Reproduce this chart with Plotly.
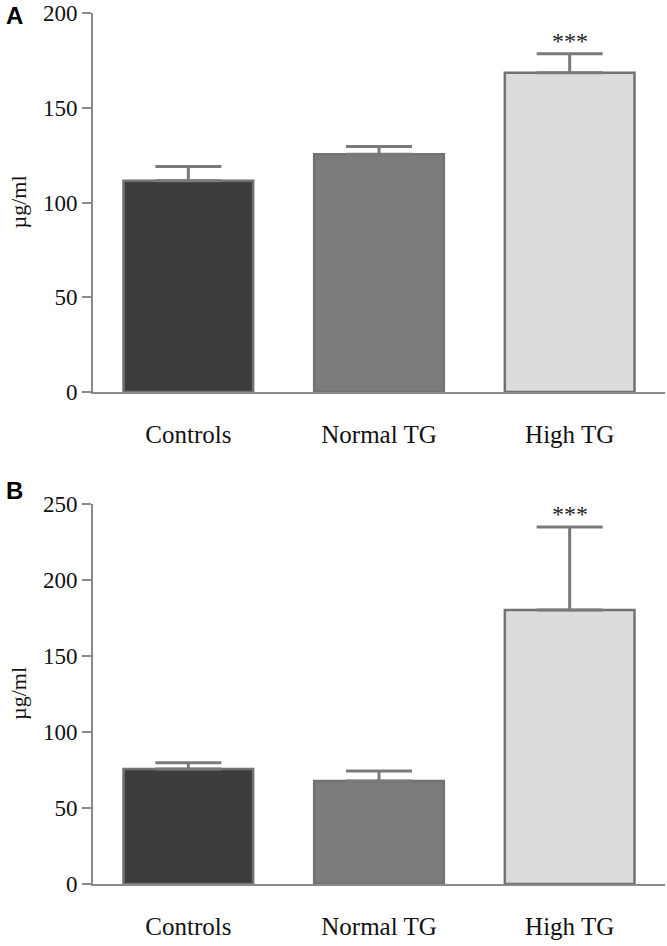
import plotly.graph_objects as go

categories = ["Controls", "Normal TG", "High TG"]
values_a = [111.5, 125.5, 168.5]
errors_a = [7.5, 4.0, 10.0]
values_b = [75.7, 67.8, 180.3]
errors_b = [4.0, 6.5, 54.6]
yticks_a = [0, 50, 100, 150, 200]
yticks_b = [0, 50, 100, 150, 200, 250]
bar_colors = ["#3d3d3d", "#7b7b7b", "#dcdcdc"]
signif = ["", "", "***"]

W, H = 667, 946
L, R = 93, 2
PW = W - L - R

def ydom(top_px, bottom_px):
    return [1 - bottom_px / H, 1 - top_px / H]

dom_a = ydom(13, 392)
dom_b = ydom(504, 884)
xrange_ = [-0.5, 2.5]

fig = go.Figure()

for vals, errs, xa, ya in [(values_a, errors_a, "x", "y"), (values_b, errors_b, "x2", "y2")]:
    fig.add_trace(go.Bar(
        x=categories, y=vals, xaxis=xa, yaxis=ya,
        marker=dict(color=bar_colors, line=dict(color="#727272", width=2.5)),
        width=0.68,
        error_y=dict(type="data", array=errs, arrayminus=[0] * len(errs),
                     symmetric=False, color="#7a7a7a", thickness=3, width=33),
        showlegend=False,
        cliponaxis=False,
    ))

axis_common = dict(showline=True, linecolor="#8a8a8a", linewidth=2,
                   showgrid=False, zeroline=False, automargin=False,
                   ticklabeloverflow="allow")
tickfont = dict(family="Liberation Serif", size=23, color="#111111")
catfont = dict(family="Liberation Serif", size=25, color="#111111")

fig.update_layout(
    width=W, height=H,
    margin=dict(l=L, r=R, t=0, b=0),
    plot_bgcolor="white", paper_bgcolor="white",
    xaxis=dict(domain=[0, 1], anchor="y", range=xrange_, ticks="",
               tickfont=catfont, ticklabelstandoff=19, **axis_common),
    yaxis=dict(domain=dom_a, anchor="x", range=[0, 200],
               tickvals=yticks_a, ticks="outside", ticklen=9, tickwidth=2,
               tickcolor="#8a8a8a", tickfont=tickfont, **axis_common),
    xaxis2=dict(domain=[0, 1], anchor="y2", range=xrange_, ticks="",
                tickfont=catfont, ticklabelstandoff=19, **axis_common),
    yaxis2=dict(domain=dom_b, anchor="x2", range=[0, 250],
                tickvals=yticks_b, ticks="outside", ticklen=9, tickwidth=2,
                tickcolor="#8a8a8a", tickfont=tickfont, **axis_common),
)

annotations = []
for vals, errs, xr, yr in [(values_a, errors_a, "x", "y"), (values_b, errors_b, "x2", "y2")]:
    for c, v, e, s in zip(categories, vals, errs, signif):
        if s:
            annotations.append(dict(x=c, y=v + e, xref=xr, yref=yr, text=s,
                                    showarrow=False, yanchor="bottom", yshift=-2,
                                    font=dict(family="Liberation Serif", size=24, color="#222222")))

# y-axis titles
for dom in [dom_a, dom_b]:
    annotations.append(dict(x=(18 - L) / PW, y=(dom[0] + dom[1]) / 2, xref="paper", yref="paper",
                            text="µg/ml", textangle=-90, showarrow=False, borderpad=0,
                            xanchor="center", yanchor="middle",
                            font=dict(family="Liberation Serif", size=22, color="#111111")))

# panel letters
for letter, ypix in [("<b>A</b>", 16), ("<b>B</b>", 490)]:
    annotations.append(dict(x=(14.5 - L) / PW, y=1 - ypix / H, xref="paper", yref="paper",
                            text=letter, showarrow=False, xanchor="center", yanchor="middle",
                            borderpad=0,
                            font=dict(family="Liberation Sans", size=24, color="#000000")))

fig.update_layout(annotations=annotations)
fig.write_html("out.html", config={"displayModeBar": False},
               post_script="document.body.style.margin='0px';document.body.style.overflow='hidden';")
